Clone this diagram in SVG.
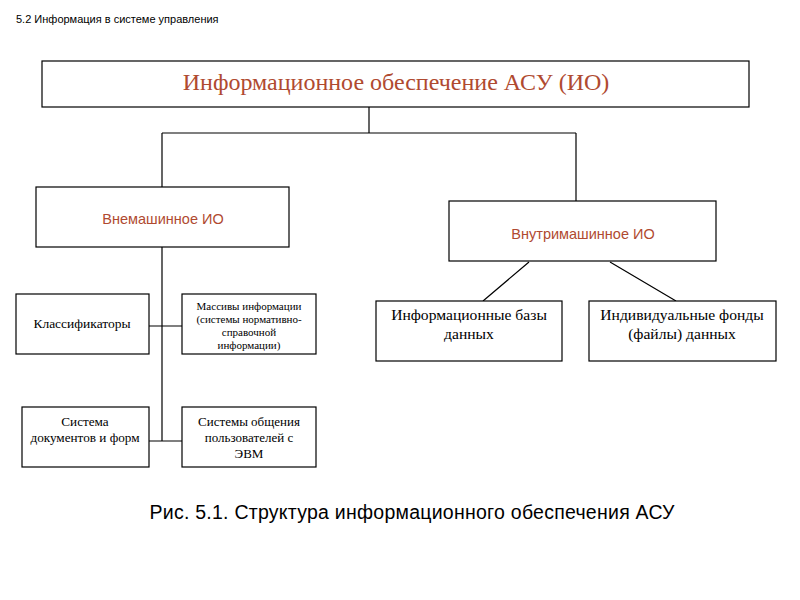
<svg xmlns="http://www.w3.org/2000/svg" width="800" height="600" viewBox="0 0 800 600">
<style>
.box{fill:#fff;stroke:#000;stroke-width:1.2}
.ln{stroke:#000;stroke-width:1.2;fill:none}
.serif{font-family:"Liberation Serif","Times New Roman",serif;fill:#000;text-anchor:middle}
.sans{font-family:"Liberation Sans",Arial,sans-serif;text-anchor:middle}
.red{fill:#b04a30}
</style>
<rect width="800" height="600" fill="#fff"/>
<text x="16" y="23" font-family="Liberation Sans, Arial, sans-serif" font-size="11" fill="#000">5.2 Информация в системе управления</text>
<g id="connectors">
<path class="ln" d="M369 107V133M162 133H576M162 133V187M576 133V201"/>
<path class="ln" d="M162 247V441M149 326H182M149 441H182"/>
<path class="ln" d="M529 262L483 301M610 262L676 301"/>
</g>
<g id="root">
<rect class="box" x="42" y="61" width="707" height="46"/>
<text class="serif red" x="396" y="90" font-size="24">Информационное обеспечение АСУ (ИО)</text>
</g>
<g id="external">
<rect class="box" x="36" y="187" width="253" height="60"/>
<text class="sans red" x="163" y="224" font-size="14.5">Внемашинное ИО</text>
</g>
<g id="internal">
<rect class="box" x="449" y="201" width="267" height="60"/>
<text class="sans red" x="583" y="239" font-size="14.5">Внутримашинное ИО</text>
</g>
<g id="classifiers">
<rect class="box" x="16" y="294" width="133" height="60"/>
<text class="serif" x="82" y="328" font-size="13.5">Классификаторы</text>
</g>
<g id="arrays">
<rect class="box" x="182" y="294" width="134" height="60"/>
<text class="serif" x="249" y="310" font-size="11">Массивы информации</text>
<text class="serif" x="249" y="323" font-size="11">(системы нормативно-</text>
<text class="serif" x="249" y="336" font-size="11">справочной</text>
<text class="serif" x="249" y="349" font-size="11">информации)</text>
</g>
<g id="docs">
<rect class="box" x="22" y="407" width="127" height="60"/>
<text class="serif" x="85" y="426" font-size="13.2">Система</text>
<text class="serif" x="85" y="442" font-size="13.2">документов и форм</text>
</g>
<g id="comm">
<rect class="box" x="182" y="407" width="134" height="60"/>
<text class="serif" x="249" y="426" font-size="13">Системы общения</text>
<text class="serif" x="249" y="442" font-size="13">пользователей с</text>
<text class="serif" x="249" y="458" font-size="13">ЭВМ</text>
</g>
<g id="databases">
<rect class="box" x="376" y="301" width="186" height="60"/>
<text class="serif" x="469" y="320" font-size="15.6">Информационные базы</text>
<text class="serif" x="469" y="339" font-size="15.6">данных</text>
</g>
<g id="files">
<rect class="box" x="589" y="301" width="187" height="60"/>
<text class="serif" x="682" y="320" font-size="15.6">Индивидуальные фонды</text>
<text class="serif" x="682" y="339" font-size="15.6">(файлы) данных</text>
</g>
<text x="412" y="519" font-family="Liberation Sans, Arial, sans-serif" font-size="19.5" text-anchor="middle" fill="#000" textLength="525" lengthAdjust="spacing">Рис. 5.1. Структура информационного обеспечения АСУ</text>
</svg>
